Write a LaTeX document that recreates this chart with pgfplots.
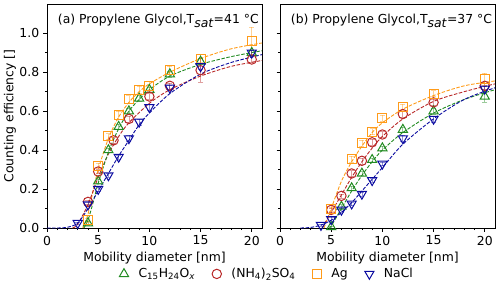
\documentclass[border=0pt]{standalone}
\usepackage{fontspec}
\setmainfont{DejaVu Sans}
\usepackage{pgfplots}
\pgfplotsset{compat=1.18}
\definecolor{cgreen}{RGB}{34,139,34}
\definecolor{cred}{RGB}{185,40,40}
\definecolor{corange}{RGB}{255,155,25}
\definecolor{cblue}{RGB}{10,10,160}
\newcommand{\ff}{\fontsize{12.4bp}{15bp}\selectfont}
\begin{document}
\ff
\begin{tikzpicture}
\pgfplotsset{
  myax/.style={scale only axis, width=215bp, height=224bp,
    xmin=0, xmax=21, ymin=0, ymax=1.15,
    xtick={0,5,10,15,20}, ytick={0,0.2,0.4,0.6,0.8,1.0},
    minor x tick num=4, minor y tick num=1,
    tick align=outside, tick pos=left,
    major tick length=3.5bp, minor tick length=2bp,
    every tick/.style={black, line width=0.8bp},
    axis line style={line width=0.8bp},
    /pgf/number format/assume math mode=true,
    yticklabel style={/pgf/number format/fixed, /pgf/number format/fixed zerofill, /pgf/number format/precision=1},
    tick label style={font=\ff},
    label style={font=\ff},
    xlabel={Mobility diameter [nm]},
    xlabel style={yshift=2bp},
    clip=true,
  },
  pg/.style={cgreen, only marks, mark=triangle, mark size=5.3bp, mark options={line width=1bp, fill=none},
    error bars/.cd, y dir=both, y explicit, error bar style={line width=0.8bp, opacity=0.45}, error mark options={opacity=0.45, mark size=2.5bp, rotate=90}},
  pr/.style={cred, only marks, mark=o, mark size=4.7bp, mark options={line width=1bp, fill=none},
    error bars/.cd, y dir=both, y explicit, error bar style={line width=0.8bp, opacity=0.45}, error mark options={opacity=0.45, mark size=2.5bp, rotate=90}},
  po/.style={corange, only marks, mark=square, mark size=4.5bp, mark options={line width=1bp, fill=none},
    error bars/.cd, y dir=both, y explicit, error bar style={line width=0.8bp, opacity=0.45}, error mark options={opacity=0.45, mark size=2.5bp, rotate=90}},
  pb/.style={cblue, only marks, mark=triangle, mark size=5.3bp, mark options={line width=1bp, fill=none, rotate=180},
    error bars/.cd, y dir=both, y explicit, error bar style={line width=0.8bp, opacity=0.45}, error mark options={opacity=0.45, mark size=2.5bp, rotate=90}},
  fit/.style={no marks, smooth, dashed, line width=0.9bp, dash pattern=on 3.5bp off 1.6bp, forget plot},
}
\path[use as bounding box] (-47bp,-56bp) rectangle (453bp,228bp);
% ---------------- left panel
\begin{axis}[myax, at={(0,0)}, anchor=south west,
  ylabel={Counting efficiency []},
  ylabel style={yshift=-5bp},
  legend style={at={(1.024,-0.205)}, anchor=center, legend columns=4, draw=none, fill=none,
    font=\ff,
    /tikz/every even column/.append style={column sep=15bp},
    /tikz/every odd column/.append style={column sep=8bp}},
  legend cell align=left]
\addplot[fit, corange] coordinates {(3.5,0)(4,0.07)(4.5,0.19)(5,0.30)(6,0.46)(7,0.57)(8,0.645)(9,0.70)(10,0.74)(12,0.80)(15,0.87)(18,0.92)(21,0.95)};
\addplot[fit, cred] coordinates {(2.5,0)(3,0.02)(4,0.12)(5,0.26)(6,0.38)(7,0.47)(8,0.54)(10,0.64)(12,0.71)(15,0.78)(18,0.83)(21,0.86)};
\addplot[fit, cgreen] coordinates {(3.6,0)(4,0.04)(4.5,0.13)(5,0.23)(6,0.39)(7,0.51)(8,0.60)(9,0.66)(10,0.71)(12,0.78)(15,0.84)(18,0.88)(21,0.91)};
\addplot[fit, cblue] coordinates {(0,0)(1,0.0)(2,0.004)(3,0.025)(4,0.10)(5,0.19)(6,0.28)(7,0.37)(8,0.45)(9,0.53)(10,0.59)(12,0.69)(15,0.79)(18,0.85)(21,0.89)};
\addplot[pg] table[x=x, y=y, y error=e] {
x y e
4 0.025 0.01
5 0.24 0.01
6 0.40 0.01
7 0.52 0.015
8 0.60 0.015
9 0.665 0.015
10 0.71 0.015
12 0.79 0.015
15 0.855 0.015
20 0.90 0.015
};
\addlegendentry{C\textsubscript{15}H\textsubscript{24}O\textsubscript{\textit{x}}}
\addplot[pr] table[x=x, y=y, y error=e] {
x y e
4 0.134 0.01
5 0.29 0.01
6.5 0.45 0.015
8 0.56 0.015
10 0.675 0.015
12 0.73 0.015
15 0.81 0.06
20 0.865 0.015
};
\addlegendentry{(NH\textsubscript{4})\textsubscript{2}SO\textsubscript{4}}
\addplot[po] table[x=x, y=y, y error=e] {
x y e
4 0.04 0.01
5 0.32 0.015
6 0.47 0.015
7 0.58 0.02
8 0.66 0.02
9 0.71 0.02
10 0.73 0.025
12 0.81 0.02
15 0.87 0.02
20 0.96 0.07
};
\addlegendentry{Ag}
\addplot[pb] table[x=x, y=y, y error=e] {
x y e
3 0.025 0.005
4 0.12 0.01
5 0.20 0.01
6 0.27 0.01
7 0.365 0.01
8 0.46 0.015
9 0.545 0.015
10 0.62 0.015
12 0.72 0.015
15 0.83 0.015
20 0.90 0.015
};
\addlegendentry{NaCl}
\node[anchor=west, inner sep=0pt] at (rel axis cs:0.05,0.925) {(a) Propylene Glycol,T$_{\textit{sat}}$=41 °C};
\end{axis}
% ---------------- right panel
\begin{axis}[myax, at={(233bp,0)}, anchor=south west, yticklabels={}]
\addplot[fit, corange] coordinates {(4.3,0)(5,0.10)(6,0.24)(7,0.34)(8,0.42)(9,0.49)(10,0.54)(12,0.61)(15,0.68)(18,0.73)(21,0.755)};
\addplot[fit, cred] coordinates {(4.1,0)(5,0.08)(6,0.17)(7,0.26)(8,0.34)(9,0.41)(10,0.47)(12,0.56)(15,0.65)(18,0.70)(21,0.74)};
\addplot[fit, cgreen] coordinates {(4.8,0)(5,0.01)(6,0.10)(7,0.19)(8,0.27)(9,0.34)(10,0.40)(12,0.49)(15,0.59)(18,0.66)(21,0.71)};
\addplot[fit, cblue] coordinates {(2,0)(3,0.003)(4,0.015)(5,0.04)(6,0.08)(7,0.13)(8,0.19)(9,0.25)(10,0.31)(12,0.43)(15,0.56)(18,0.66)(21,0.72)};
\addplot[pg] table[x=x, y=y, y error=e] {
x y e
5 0.005 0.005
6 0.11 0.01
7 0.205 0.01
8 0.28 0.01
9 0.35 0.01
10 0.41 0.01
12 0.505 0.015
15 0.60 0.015
20 0.675 0.03
};
\addplot[pr] table[x=x, y=y, y error=e] {
x y e
5 0.093 0.01
6 0.165 0.01
7 0.28 0.015
8 0.345 0.015
9 0.44 0.015
10 0.48 0.015
12 0.585 0.015
15 0.645 0.015
20 0.73 0.015
};
\addplot[po] table[x=x, y=y, y error=e] {
x y e
5 0.095 0.01
7 0.355 0.015
8 0.435 0.015
9 0.495 0.015
10 0.565 0.015
12 0.62 0.015
15 0.69 0.015
20 0.765 0.03
};
\addplot[pb] table[x=x, y=y, y error=e] {
x y e
4 0.015 0.005
5 0.045 0.01
6 0.093 0.01
7 0.125 0.01
8 0.175 0.01
9 0.245 0.01
10 0.33 0.01
12 0.46 0.015
15 0.56 0.015
20 0.715 0.015
};
\node[anchor=west, inner sep=0pt] at (rel axis cs:0.05,0.925) {(b) Propylene Glycol,T$_{\textit{sat}}$=37 °C};
\end{axis}
\end{tikzpicture}
\end{document}
